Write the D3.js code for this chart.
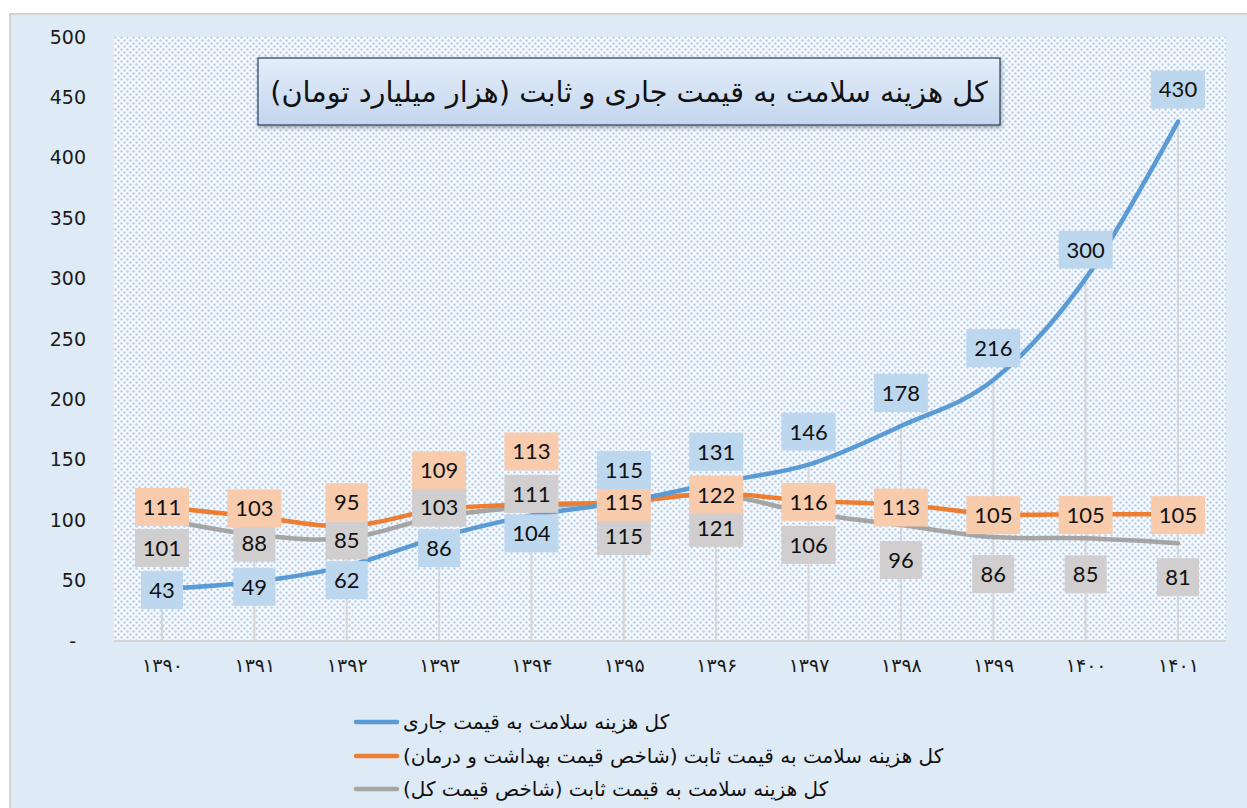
<!DOCTYPE html>
<html>
<head>
<meta charset="utf-8">
<script src="https://cdn.jsdelivr.net/npm/d3@7"></script>
<style>
  body { margin: 0; background: #ffffff; }
  svg { display: block; }
</style>
</head>
<body>
<svg id="chart" width="1247" height="808"></svg>
<script>
// data
const years = ["۱۳۹۰", "۱۳۹۱", "۱۳۹۲", "۱۳۹۳", "۱۳۹۴", "۱۳۹۵", "۱۳۹۶", "۱۳۹۷", "۱۳۹۸", "۱۳۹۹", "۱۴۰۰", "۱۴۰۱"];
const currentPrice = [43, 49, 62, 86, 104, 115, 131, 146, 178, 216, 300, 430];
const healthIndexPrice = [111, 103, 95, 109, 113, 115, 122, 116, 113, 105, 105, 105];
const generalIndexPrice = [101, 88, 85, 103, 111, 115, 121, 106, 96, 86, 85, 81];
const yTicks = [0, 50, 100, 150, 200, 250, 300, 350, 400, 450, 500];

const titleText = "کل هزینه سلامت به قیمت جاری و ثابت (هزار میلیارد تومان)";
const seriesNames = [
    "کل هزینه سلامت به قیمت جاری",
    "کل هزینه سلامت به قیمت ثابت (شاخص قیمت بهداشت و درمان)",
    "کل هزینه سلامت به قیمت ثابت (شاخص قیمت کل)"
];

// label nudges in px (where excel placed the boxes)
const blueLabelDy = [1, 5, 14, 11, 18, -32, -31, -33, -33, -32, -29, -32];
const orangeLabelDy = [0, -8, -24, -39, -53, 0, 1, 1, 3, 1, 1, 1];
const grayLabelDy = [29, 8, 2, -9, -13, 34, 33, 32, 35, 37, 36, 34];

let svg = d3.select("#chart");

let plotLeft = 114, plotRight = 1226, plotTop = 37, plotBottom = 641;

let defs = svg.append("defs");

// dotted fill of the plot area
let pat = defs.append("pattern")
    .attr("id", "dots")
    .attr("width", 6)
    .attr("height", 6)
    .attr("patternUnits", "userSpaceOnUse");
pat.append("rect").attr("width", 6).attr("height", 6).attr("fill", "#f6f9fd");
pat.append("circle").attr("cx", 1.5).attr("cy", 1.5).attr("r", 1.2).attr("fill", "#b2cfee");
pat.append("circle").attr("cx", 4.5).attr("cy", 4.5).attr("r", 1.2).attr("fill", "#b2cfee");

let grad = defs.append("linearGradient")
    .attr("id", "titleGrad")
    .attr("x1", 0).attr("y1", 0).attr("x2", 0).attr("y2", 1);
grad.append("stop").attr("offset", "0%").attr("stop-color", "#e4edf8");
grad.append("stop").attr("offset", "100%").attr("stop-color", "#c3d6ee");

let shadow = defs.append("filter").attr("id", "shadow")
    .attr("x", "-5%").attr("y", "-20%").attr("width", "110%").attr("height", "150%");
shadow.append("feDropShadow")
    .attr("dx", 1).attr("dy", 2).attr("stdDeviation", 2)
    .attr("flood-color", "#000").attr("flood-opacity", 0.35);

// chart area
svg.append("rect")
    .attr("x", 10).attr("y", 14)
    .attr("width", 1260).attr("height", 820)
    .attr("fill", "#deeaf6")
    .attr("stroke", "#d4d4d4")
    .attr("stroke-width", 2);

svg.append("rect")
    .attr("x", plotLeft).attr("y", plotTop)
    .attr("width", plotRight - plotLeft).attr("height", plotBottom - plotTop)
    .attr("fill", "url(#dots)");

let x = d3.scalePoint()
    .domain(years)
    .range([162, 1178]);

let y = d3.scaleLinear()
    .domain([0, 500])
    .range([plotBottom, plotTop]);

// y axis
let yAxis = d3.axisLeft(y)
    .tickValues(yTicks)
    .tickSize(0)
    .tickPadding(0)
    .tickFormat(d => d === 0 ? "-" : d);

let yg = svg.append("g")
    .attr("transform", "translate(86,0)")
    .call(yAxis);
yg.select(".domain").remove();
yg.selectAll("text")
    .attr("font-family", "DejaVu Sans")
    .attr("font-size", 19)
    .attr("fill", "#1a1a1a")
    .attr("dx", d => d === 0 ? -10 : 0);

// drop lines from the highest point of every year
let allSeries = [currentPrice, healthIndexPrice, generalIndexPrice];
svg.append("g").selectAll("line")
    .data(years)
    .join("line")
    .attr("x1", d => x(d)).attr("x2", d => x(d))
    .attr("y1", (d, i) => y(d3.max(allSeries, s => s[i])))
    .attr("y2", plotBottom)
    .attr("stroke", "#d6d6d6")
    .attr("stroke-width", 2);

// x axis
let xAxis = d3.axisBottom(x).tickSize(0).tickPadding(0);
let xg = svg.append("g")
    .attr("transform", "translate(0," + plotBottom + ")")
    .call(xAxis);
xg.select(".domain")
    .attr("d", "M" + plotLeft + ",0H" + plotRight)
    .attr("stroke", "#d4d4d4")
    .attr("stroke-width", 2);
xg.selectAll("text")
    .attr("y", 18)
    .attr("font-family", "DejaVu Sans")
    .attr("font-size", 19)
    .attr("letter-spacing", 4)
    .attr("fill", "#1a1a1a");

// lines
let colors = ["#5b9bd5", "#ed7d31", "#a5a5a5"];
let lineGen = d3.line()
    .x((d, i) => x(years[i]))
    .y(d => y(d))
    .curve(d3.curveCatmullRom.alpha(0));

let drawOrder = [2, 1, 0];
drawOrder.forEach(k => {
    svg.append("path")
        .datum(allSeries[k])
        .attr("d", lineGen)
        .attr("fill", "none")
        .attr("stroke", colors[k])
        .attr("stroke-width", 4.5)
        .attr("stroke-linecap", "round");
});

// data labels
let labelFills = ["#bdd7ee", "#f8cbad", "#d0cece"];
let labelDys = [blueLabelDy, orangeLabelDy, grayLabelDy];

function drawLabels(k) {
    let g = svg.append("g");
    let items = g.selectAll("g")
        .data(allSeries[k])
        .join("g")
        .attr("transform", (d, i) => "translate(" + x(years[i]) + "," + (y(d) + labelDys[k][i]) + ")");
    items.append("rect")
        .attr("x", d => String(d).length > 2 ? -27 : -21)
        .attr("width", d => String(d).length > 2 ? 54 : 42)
        .attr("y", -19)
        .attr("height", 38)
        .attr("fill", labelFills[k]);
    items.append("text")
        .attr("text-anchor", "middle")
        .attr("dy", "0.36em")
        .attr("font-family", "Lato")
        .attr("font-size", 22)
        .attr("fill", "#111")
        .text(d => d);
}
drawLabels(2);
drawLabels(1);
drawLabels(0);

// title box
svg.append("rect")
    .attr("x", 258).attr("y", 58)
    .attr("width", 742).attr("height", 67)
    .attr("fill", "url(#titleGrad)")
    .attr("stroke", "#2b3f5c")
    .attr("stroke-width", 1.2)
    .attr("filter", "url(#shadow)");

svg.append("text")
    .attr("x", 629).attr("y", 92)
    .attr("dy", "0.35em")
    .attr("text-anchor", "middle")
    .attr("direction", "rtl")
    .attr("font-family", "DejaVu Sans")
    .attr("font-size", 28.8)
    .attr("fill", "#111")
    .text(titleText);

// legend
let legend = svg.append("g");
let legendY = [722, 756, 789];
seriesNames.forEach((name, k) => {
    legend.append("line")
        .attr("x1", 356).attr("x2", 397)
        .attr("y1", legendY[k]).attr("y2", legendY[k])
        .attr("stroke", colors[k])
        .attr("stroke-width", 4.5)
        .attr("stroke-linecap", "round");
    legend.append("text")
        .attr("x", 403).attr("y", legendY[k])
        .attr("dy", "0.35em")
        .attr("text-anchor", "end")
        .attr("direction", "rtl")
        .attr("font-family", "DejaVu Sans")
        .attr("font-size", 20)
        .attr("fill", "#111")
        .text(name);
});
</script>
</body>
</html>
